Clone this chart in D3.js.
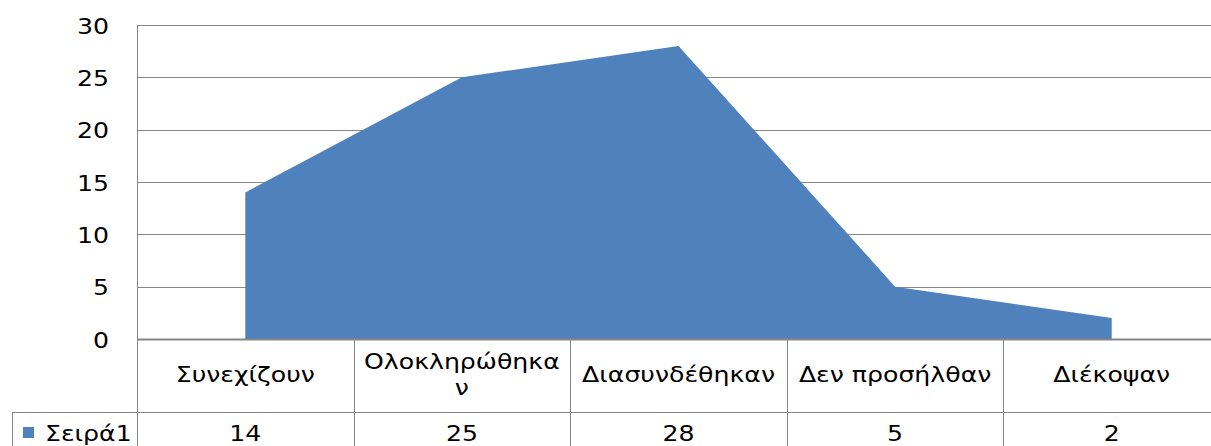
<!DOCTYPE html>
<html><head><meta charset="utf-8">
<script src="https://cdn.jsdelivr.net/npm/d3@7"></script>
<style>
body{margin:0;background:#fff;}
svg text{font-family:"DejaVu Sans",sans-serif;fill:#000;}
</style></head>
<body>
<svg id="chart" width="1211" height="446"></svg>
<script>
const categories = ["Συνεχίζουν", "Ολοκληρώθηκαν", "Διασυνδέθηκαν", "Δεν προσήλθαν", "Διέκοψαν"];
const categoryLines = [["Συνεχίζουν"], ["Ολοκληρώθηκα", "ν"], ["Διασυνδέθηκαν"], ["Δεν προσήλθαν"], ["Διέκοψαν"]];
const seriesName = "Σειρά1";
const values = [14, 25, 28, 5, 2];
const yTicks = [0, 5, 10, 15, 20, 25, 30];

(function(){
const svg = d3.select("#chart");
const pLeft = 137, pRight = 1220, pTop = 25, pBottom = 339;
const rowMid = 412, tableBottom = 480, legendLeft = 12;
const gridColor = "#868686";
const fillColor = "#4F81BD";
const fs = 21, sx = 1.2;

const x = d3.scaleBand().domain(categories).range([pLeft, pRight]).padding(0);
const y = d3.scaleLinear().domain([0, 30]).range([pBottom, pTop]);
const cx = c => x(c) + x.bandwidth() / 2;

// gridlines
svg.append("g").selectAll("line").data(yTicks.filter(t => t > 0)).join("line")
  .attr("x1", pLeft).attr("x2", pRight)
  .attr("y1", d => Math.round(y(d)) + 0.5).attr("y2", d => Math.round(y(d)) + 0.5)
  .attr("stroke", gridColor).attr("stroke-width", 1);

// area
const data = categories.map((c, i) => ({c, v: values[i]}));
const area = d3.area().x(d => cx(d.c)).y0(y(0)).y1(d => y(d.v));
svg.append("path").datum(data).attr("d", area).attr("fill", fillColor);

// y axis labels
svg.append("g").selectAll("text").data(yTicks).join("text")
  .attr("text-anchor", "end").attr("font-size", fs)
  .attr("transform", d => `translate(109,${y(d) + 8.5}) scale(${sx},1)`)
  .text(d => d);

// table lines
const g = svg.append("g").attr("stroke", gridColor);
g.append("line").attr("x1", pLeft).attr("x2", pRight).attr("y1", pBottom + 0.5).attr("y2", pBottom + 0.5).attr("stroke-width", 2);
g.append("line").attr("x1", legendLeft).attr("x2", pRight).attr("y1", rowMid + 0.5).attr("y2", rowMid + 0.5);
g.append("line").attr("x1", pLeft + 0.5).attr("x2", pLeft + 0.5).attr("y1", pTop).attr("y2", tableBottom);
g.append("line").attr("x1", legendLeft + 0.5).attr("x2", legendLeft + 0.5).attr("y1", rowMid).attr("y2", tableBottom);
g.selectAll(".col").data(categories.slice(1)).join("line")
  .attr("x1", d => Math.round(x(d)) + 0.5).attr("x2", d => Math.round(x(d)) + 0.5)
  .attr("y1", pBottom).attr("y2", tableBottom);

// category labels
const lab = svg.append("g").selectAll("text").data(categories).join("text")
  .attr("text-anchor", "middle").attr("font-size", fs)
  .attr("transform", d => `translate(${cx(d)},0) scale(${sx},1)`);
lab.each(function(d, i) {
  const lines = categoryLines[i];
  const t = d3.select(this);
  if (lines.length === 1) {
    t.append("tspan").attr("x", 0).attr("y", 382).text(lines[0]);
  } else {
    lines.forEach((l, k) => t.append("tspan").attr("x", 0).attr("y", 369 + k * 26).text(l));
  }
});

// values row
svg.append("g").selectAll("text").data(data).join("text")
  .attr("text-anchor", "middle").attr("font-size", fs)
  .attr("transform", d => `translate(${cx(d.c)},441) scale(${sx},1)`)
  .text(d => d.v);

// legend
svg.append("rect").attr("x", 23).attr("y", 427).attr("width", 11).attr("height", 11).attr("fill", fillColor);
svg.append("text").attr("font-size", fs)
  .attr("transform", `translate(45,441) scale(${sx},1)`).text(seriesName);
})();
</script>
</body></html>
